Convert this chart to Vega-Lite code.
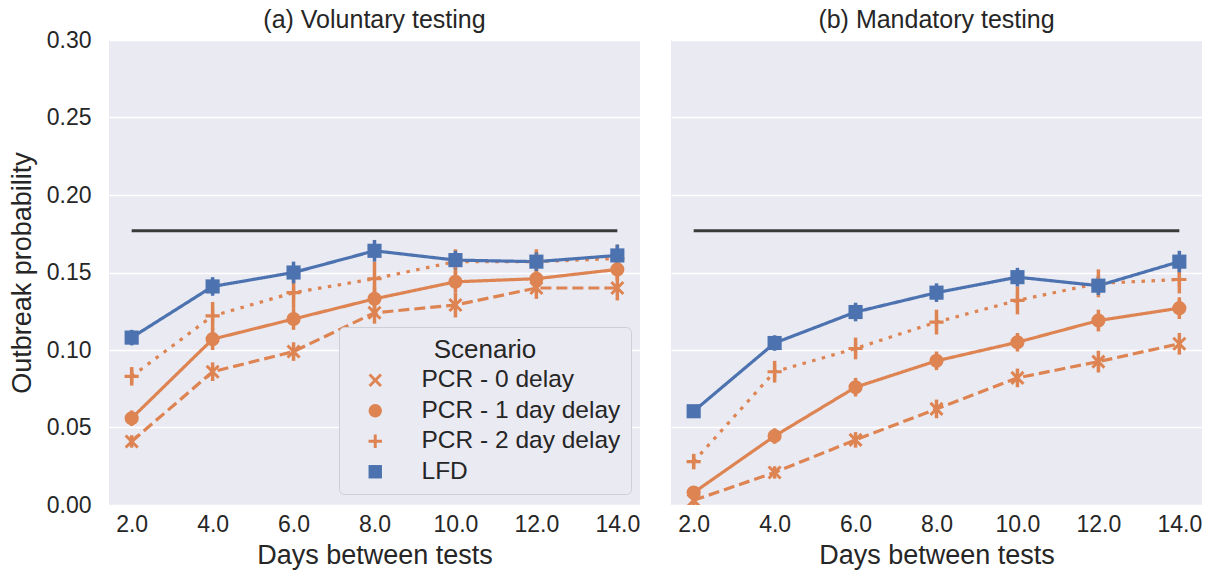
{
  "$schema": "https://vega.github.io/schema/vega-lite/v6.json",
  "padding": {"left": 8, "top": 8, "right": 2, "bottom": 2},
  "datasets": {
    "ref": [{"start": "2.0", "end": "14.0", "level": 0.177}],
    "pts": [
      {"panel": "a", "days": "2.0", "scenario": "PCR - 0 delay", "p": 0.041, "lo": 0.037, "hi": 0.045},
      {"panel": "a", "days": "4.0", "scenario": "PCR - 0 delay", "p": 0.086, "lo": 0.080, "hi": 0.092},
      {"panel": "a", "days": "6.0", "scenario": "PCR - 0 delay", "p": 0.099, "lo": 0.093, "hi": 0.105},
      {"panel": "a", "days": "8.0", "scenario": "PCR - 0 delay", "p": 0.124, "lo": 0.117, "hi": 0.131},
      {"panel": "a", "days": "10.0", "scenario": "PCR - 0 delay", "p": 0.129, "lo": 0.121, "hi": 0.137},
      {"panel": "a", "days": "12.0", "scenario": "PCR - 0 delay", "p": 0.140, "lo": 0.133, "hi": 0.147},
      {"panel": "a", "days": "14.0", "scenario": "PCR - 0 delay", "p": 0.140, "lo": 0.132, "hi": 0.148},
      {"panel": "a", "days": "2.0", "scenario": "PCR - 1 day delay", "p": 0.056, "lo": 0.051, "hi": 0.061},
      {"panel": "a", "days": "4.0", "scenario": "PCR - 1 day delay", "p": 0.107, "lo": 0.100, "hi": 0.114},
      {"panel": "a", "days": "6.0", "scenario": "PCR - 1 day delay", "p": 0.120, "lo": 0.113, "hi": 0.127},
      {"panel": "a", "days": "8.0", "scenario": "PCR - 1 day delay", "p": 0.133, "lo": 0.125, "hi": 0.141},
      {"panel": "a", "days": "10.0", "scenario": "PCR - 1 day delay", "p": 0.144, "lo": 0.137, "hi": 0.151},
      {"panel": "a", "days": "12.0", "scenario": "PCR - 1 day delay", "p": 0.146, "lo": 0.139, "hi": 0.153},
      {"panel": "a", "days": "14.0", "scenario": "PCR - 1 day delay", "p": 0.152, "lo": 0.145, "hi": 0.159},
      {"panel": "a", "days": "2.0", "scenario": "PCR - 2 day delay", "p": 0.083, "lo": 0.077, "hi": 0.089},
      {"panel": "a", "days": "4.0", "scenario": "PCR - 2 day delay", "p": 0.122, "lo": 0.113, "hi": 0.131},
      {"panel": "a", "days": "6.0", "scenario": "PCR - 2 day delay", "p": 0.137, "lo": 0.127, "hi": 0.147},
      {"panel": "a", "days": "8.0", "scenario": "PCR - 2 day delay", "p": 0.146, "lo": 0.135, "hi": 0.157},
      {"panel": "a", "days": "10.0", "scenario": "PCR - 2 day delay", "p": 0.157, "lo": 0.149, "hi": 0.165},
      {"panel": "a", "days": "12.0", "scenario": "PCR - 2 day delay", "p": 0.157, "lo": 0.149, "hi": 0.165},
      {"panel": "a", "days": "14.0", "scenario": "PCR - 2 day delay", "p": 0.159, "lo": 0.150, "hi": 0.168},
      {"panel": "a", "days": "2.0", "scenario": "LFD", "p": 0.108, "lo": 0.103, "hi": 0.113},
      {"panel": "a", "days": "4.0", "scenario": "LFD", "p": 0.141, "lo": 0.135, "hi": 0.147},
      {"panel": "a", "days": "6.0", "scenario": "LFD", "p": 0.150, "lo": 0.143, "hi": 0.157},
      {"panel": "a", "days": "8.0", "scenario": "LFD", "p": 0.164, "lo": 0.157, "hi": 0.171},
      {"panel": "a", "days": "10.0", "scenario": "LFD", "p": 0.158, "lo": 0.152, "hi": 0.164},
      {"panel": "a", "days": "12.0", "scenario": "LFD", "p": 0.157, "lo": 0.151, "hi": 0.163},
      {"panel": "a", "days": "14.0", "scenario": "LFD", "p": 0.161, "lo": 0.154, "hi": 0.168},
      {"panel": "b", "days": "2.0", "scenario": "PCR - 0 delay", "p": 0.003, "lo": 0.000, "hi": 0.006},
      {"panel": "b", "days": "4.0", "scenario": "PCR - 0 delay", "p": 0.021, "lo": 0.017, "hi": 0.025},
      {"panel": "b", "days": "6.0", "scenario": "PCR - 0 delay", "p": 0.042, "lo": 0.037, "hi": 0.047},
      {"panel": "b", "days": "8.0", "scenario": "PCR - 0 delay", "p": 0.062, "lo": 0.056, "hi": 0.068},
      {"panel": "b", "days": "10.0", "scenario": "PCR - 0 delay", "p": 0.082, "lo": 0.076, "hi": 0.088},
      {"panel": "b", "days": "12.0", "scenario": "PCR - 0 delay", "p": 0.0925, "lo": 0.0855, "hi": 0.0995},
      {"panel": "b", "days": "14.0", "scenario": "PCR - 0 delay", "p": 0.104, "lo": 0.097, "hi": 0.111},
      {"panel": "b", "days": "2.0", "scenario": "PCR - 1 day delay", "p": 0.008, "lo": 0.004, "hi": 0.012},
      {"panel": "b", "days": "4.0", "scenario": "PCR - 1 day delay", "p": 0.0445, "lo": 0.0395, "hi": 0.0495},
      {"panel": "b", "days": "6.0", "scenario": "PCR - 1 day delay", "p": 0.076, "lo": 0.070, "hi": 0.082},
      {"panel": "b", "days": "8.0", "scenario": "PCR - 1 day delay", "p": 0.093, "lo": 0.087, "hi": 0.099},
      {"panel": "b", "days": "10.0", "scenario": "PCR - 1 day delay", "p": 0.105, "lo": 0.099, "hi": 0.111},
      {"panel": "b", "days": "12.0", "scenario": "PCR - 1 day delay", "p": 0.119, "lo": 0.112, "hi": 0.126},
      {"panel": "b", "days": "14.0", "scenario": "PCR - 1 day delay", "p": 0.127, "lo": 0.120, "hi": 0.134},
      {"panel": "b", "days": "2.0", "scenario": "PCR - 2 day delay", "p": 0.028, "lo": 0.023, "hi": 0.033},
      {"panel": "b", "days": "4.0", "scenario": "PCR - 2 day delay", "p": 0.086, "lo": 0.079, "hi": 0.093},
      {"panel": "b", "days": "6.0", "scenario": "PCR - 2 day delay", "p": 0.101, "lo": 0.094, "hi": 0.108},
      {"panel": "b", "days": "8.0", "scenario": "PCR - 2 day delay", "p": 0.118, "lo": 0.110, "hi": 0.126},
      {"panel": "b", "days": "10.0", "scenario": "PCR - 2 day delay", "p": 0.132, "lo": 0.123, "hi": 0.141},
      {"panel": "b", "days": "12.0", "scenario": "PCR - 2 day delay", "p": 0.143, "lo": 0.134, "hi": 0.152},
      {"panel": "b", "days": "14.0", "scenario": "PCR - 2 day delay", "p": 0.1455, "lo": 0.1365, "hi": 0.1545},
      {"panel": "b", "days": "2.0", "scenario": "LFD", "p": 0.0605, "lo": 0.0565, "hi": 0.0645},
      {"panel": "b", "days": "4.0", "scenario": "LFD", "p": 0.1045, "lo": 0.0995, "hi": 0.1095},
      {"panel": "b", "days": "6.0", "scenario": "LFD", "p": 0.1245, "lo": 0.1185, "hi": 0.1305},
      {"panel": "b", "days": "8.0", "scenario": "LFD", "p": 0.137, "lo": 0.131, "hi": 0.143},
      {"panel": "b", "days": "10.0", "scenario": "LFD", "p": 0.147, "lo": 0.141, "hi": 0.153},
      {"panel": "b", "days": "12.0", "scenario": "LFD", "p": 0.1415, "lo": 0.1355, "hi": 0.1475},
      {"panel": "b", "days": "14.0", "scenario": "LFD", "p": 0.157, "lo": 0.150, "hi": 0.164}
    ]
  },
  "spacing": 31,
  "resolve": {"scale": {"color": "independent", "shape": "independent", "strokeDash": "independent"}, "legend": {"color": "independent", "shape": "independent"}},
  "hconcat": [
    {
      "width": 531,
      "height": 465,
      "title": {"text": "(a) Voluntary testing", "offset": -4},
      "layer": [
        {
          "data": {"name": "ref"},
          "mark": {"type": "rule", "color": "#3a3a3a", "strokeWidth": 3},
          "encoding": {
            "x": {"field": "start", "type": "nominal", "scale": {"type": "point", "domain": ["2.0", "4.0", "6.0", "8.0", "10.0", "12.0", "14.0"], "padding": 0.28}, "axis": {"title": "Days between tests"}},
            "x2": {"field": "end"},
            "y": {"field": "level", "type": "quantitative", "scale": {"domain": [0, 0.3], "nice": false}, "axis": {"title": "Outbreak probability", "values": [0, 0.05, 0.1, 0.15, 0.2, 0.25, 0.3], "format": ".2f"}}
          }
        },
        {
          "data": {"name": "pts"},
          "transform": [{"filter": "datum.panel === 'a'"}],
          "mark": {"type": "rule", "strokeWidth": 3.5},
          "encoding": {
            "x": {"field": "days", "type": "nominal"},
            "y": {"field": "lo", "type": "quantitative"},
            "y2": {"field": "hi"},
            "color": {"field": "scenario", "type": "nominal", "title": "Scenario", "scale": {"domain": ["PCR - 0 delay", "PCR - 1 day delay", "PCR - 2 day delay", "LFD"], "range": ["#DD8452", "#DD8452", "#DD8452", "#4C72B0"]}}
          }
        },
        {
          "data": {"name": "pts"},
          "transform": [{"filter": "datum.panel === 'a'"}],
          "mark": {"type": "line", "strokeWidth": 3.2, "strokeCap": "butt"},
          "encoding": {
            "x": {"field": "days", "type": "nominal"},
            "y": {"field": "p", "type": "quantitative"},
            "color": {"field": "scenario", "type": "nominal", "title": "Scenario"},
            "strokeDash": {"field": "scenario", "type": "nominal", "legend": null, "scale": {"domain": ["PCR - 0 delay", "PCR - 1 day delay", "PCR - 2 day delay", "LFD"], "range": [[11, 5], [1, 0], [3.5, 6.5], [1, 0]]}}
          }
        },
        {
          "data": {"name": "pts"},
          "transform": [{"filter": "datum.panel === 'a'"}],
          "mark": {"type": "point", "filled": true, "opacity": 1, "size": 200},
          "encoding": {
            "x": {"field": "days", "type": "nominal"},
            "y": {"field": "p", "type": "quantitative"},
            "color": {"field": "scenario", "type": "nominal", "title": "Scenario", "legend": {"orient": "none", "legendX": 230, "legendY": 287}},
            "shape": {"field": "scenario", "type": "nominal", "title": "Scenario", "legend": {"orient": "none", "legendX": 230, "legendY": 287}, "scale": {"domain": ["PCR - 0 delay", "PCR - 1 day delay", "PCR - 2 day delay", "LFD"], "range": ["M0,-0.3L0.7,-1L1,-0.7L0.3,0L1,0.7L0.7,1L0,0.3L-0.7,1L-1,0.7L-0.3,0L-1,-0.7L-0.7,-1Z", "circle", "M-0.22,-1L0.22,-1L0.22,-0.22L1,-0.22L1,0.22L0.22,0.22L0.22,1L-0.22,1L-0.22,0.22L-1,0.22L-1,-0.22L-0.22,-0.22Z", "square"]}}
          }
        }
      ]
    },
    {
      "width": 531,
      "height": 465,
      "title": {"text": "(b) Mandatory testing", "offset": 7},
      "layer": [
        {
          "data": {"name": "ref"},
          "mark": {"type": "rule", "color": "#3a3a3a", "strokeWidth": 3},
          "encoding": {
            "x": {"field": "start", "type": "nominal", "scale": {"type": "point", "domain": ["2.0", "4.0", "6.0", "8.0", "10.0", "12.0", "14.0"], "padding": 0.28}, "axis": {"title": "Days between tests"}},
            "x2": {"field": "end"},
            "y": {"field": "level", "type": "quantitative", "scale": {"domain": [0, 0.3], "nice": false}, "axis": {"title": null, "labels": false, "values": [0, 0.05, 0.1, 0.15, 0.2, 0.25, 0.3]}}
          }
        },
        {
          "data": {"name": "pts"},
          "transform": [{"filter": "datum.panel === 'b'"}],
          "mark": {"type": "rule", "strokeWidth": 3.5, "clip": true},
          "encoding": {
            "x": {"field": "days", "type": "nominal"},
            "y": {"field": "lo", "type": "quantitative"},
            "y2": {"field": "hi"},
            "color": {"field": "scenario", "type": "nominal", "legend": null, "scale": {"domain": ["PCR - 0 delay", "PCR - 1 day delay", "PCR - 2 day delay", "LFD"], "range": ["#DD8452", "#DD8452", "#DD8452", "#4C72B0"]}}
          }
        },
        {
          "data": {"name": "pts"},
          "transform": [{"filter": "datum.panel === 'b'"}],
          "mark": {"type": "line", "strokeWidth": 3.2, "strokeCap": "butt", "clip": true},
          "encoding": {
            "x": {"field": "days", "type": "nominal"},
            "y": {"field": "p", "type": "quantitative"},
            "color": {"field": "scenario", "type": "nominal", "legend": null},
            "strokeDash": {"field": "scenario", "type": "nominal", "legend": null, "scale": {"domain": ["PCR - 0 delay", "PCR - 1 day delay", "PCR - 2 day delay", "LFD"], "range": [[11, 5], [1, 0], [3.5, 6.5], [1, 0]]}}
          }
        },
        {
          "data": {"name": "pts"},
          "transform": [{"filter": "datum.panel === 'b'"}],
          "mark": {"type": "point", "filled": true, "opacity": 1, "size": 200, "clip": true},
          "encoding": {
            "x": {"field": "days", "type": "nominal"},
            "y": {"field": "p", "type": "quantitative"},
            "color": {"field": "scenario", "type": "nominal", "legend": null},
            "shape": {"field": "scenario", "type": "nominal", "legend": null, "scale": {"domain": ["PCR - 0 delay", "PCR - 1 day delay", "PCR - 2 day delay", "LFD"], "range": ["M0,-0.3L0.7,-1L1,-0.7L0.3,0L1,0.7L0.7,1L0,0.3L-0.7,1L-1,0.7L-0.3,0L-1,-0.7L-0.7,-1Z", "circle", "M-0.22,-1L0.22,-1L0.22,-0.22L1,-0.22L1,0.22L0.22,0.22L0.22,1L-0.22,1L-0.22,0.22L-1,0.22L-1,-0.22L-0.22,-0.22Z", "square"]}}
          }
        }
      ]
    }
  ],
  "config": {
    "font": "Liberation Sans",
    "view": {"fill": "#EAEAF2", "stroke": null},
    "axis": {"domain": false, "ticks": false, "labelFontSize": 23, "labelColor": "#262626", "titleFontSize": 27, "titleColor": "#262626", "titleFontWeight": "normal", "gridColor": "#ffffff", "gridWidth": 1.4},
    "axisX": {"grid": false, "labelAngle": 0, "labelPadding": 8, "titlePadding": 6},
    "axisY": {"labelPadding": 18, "titlePadding": 10},
    "title": {"fontSize": 25, "fontWeight": "normal", "color": "#262626"},
    "legend": {"fillColor": "#EAEAF2", "strokeColor": "#cfcfd6", "cornerRadius": 5, "padding": 10, "titleFontSize": 26, "titleFontWeight": "normal", "titleColor": "#262626", "titleAnchor": "middle", "labelFontSize": 24.5, "labelLimit": 400, "labelColor": "#262626", "symbolSize": 180, "symbolOffset": 14, "labelOffset": 34, "rowPadding": 5.5, "titlePadding": 5, "symbolStrokeWidth": 0}
  }
}
